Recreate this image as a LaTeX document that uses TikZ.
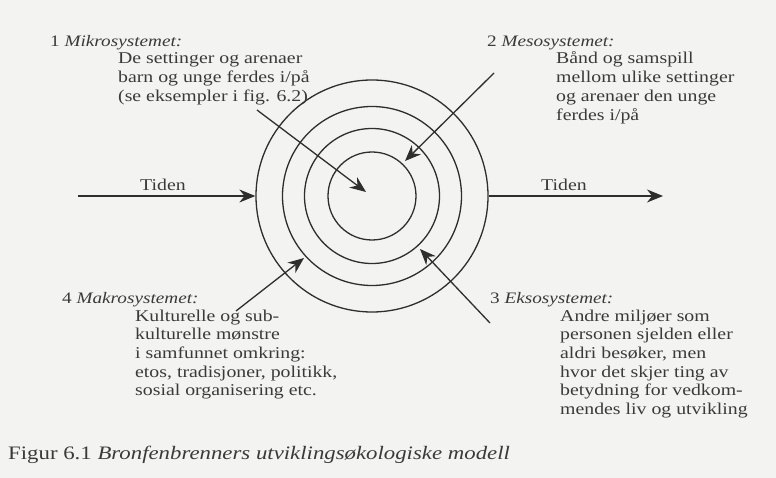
\documentclass[tikz,border=0pt]{standalone}
\usepackage{fontspec}
\setmainfont[FakeStretch=1.2]{Liberation Serif}
\usetikzlibrary{arrows.meta}
\definecolor{bg}{HTML}{F3F3F1}
\definecolor{ink}{HTML}{2E2E2E}
\definecolor{txtc}{HTML}{3A3A3A}
\tikzset{
  ring/.style={circle, draw=ink, line width=1.3pt, inner sep=0pt},
  arr/.style={draw=ink, line width=1.3pt, -{Stealth[length=16pt,width=13pt]}},
  txt/.style={anchor=base west, inner sep=0pt, text=txtc, font=\fontsize{16.5}{18.7}\selectfont},
  head/.style={anchor=base west, inner sep=0pt, text=txtc, font=\fontsize{16}{18}\selectfont},
}
\begin{document}
\begin{tikzpicture}[x=1pt,y=-1pt]
\fill[bg] (0,0) rectangle (776,478);
\useasboundingbox (0,0) rectangle (776,478);
% rings
\node[ring, minimum size=88pt] (r1) at (372,196) {};
\node[ring, minimum size=135pt] (r2) at (372,196) {};
\node[ring, minimum size=179pt] (r3) at (372,196) {};
\node[ring, minimum size=232pt] (r4) at (372,196) {};
% time arrows
\coordinate (tl0) at (78,196);
\coordinate (tr1) at (663,196);
\draw[arr] (tl0) -- (r4.west);
\draw[arr] (r4.east) -- (tr1);
\node[txt] (tidenL) at (140,191) {Tiden};
\node[txt] (tidenR) at (541,191) {Tiden};
% pointer arrows
\coordinate (a1s) at (257,110);
\coordinate (a1e) at (366,192);
\draw[arr] (a1s) -- (a1e);
\coordinate (a2s) at (494,73);
\coordinate (a2e) at (405,161);
\draw[arr] (a2s) -- (a2e);
\coordinate (a3s) at (490,323);
\coordinate (a3e) at (420,249);
\draw[arr] (a3s) -- (a3e);
\coordinate (a4s) at (236,311);
\coordinate (a4e) at (304,258);
\draw[arr] (a4s) -- (a4e);
% labels
\node[head] (h1) at (50,47) {1 \textit{Mikrosystemet:}};
\node[txt] (b1) at (118,64) {\begin{tabular}[t]{@{}l@{}}De settinger og arenaer\\ barn og unge ferdes i/på\\ (se eksempler i fig. 6.2)\end{tabular}};
\node[head] (h2) at (487,47) {2 \textit{Mesosystemet:}};
\node[txt] (b2) at (556,64) {\begin{tabular}[t]{@{}l@{}}Bånd og samspill\\ mellom ulike settinger\\ og arenaer den unge\\ ferdes i/på\end{tabular}};
\node[head] (h4) at (62,303) {4 \textit{Makrosystemet:}};
\node[txt] (b4) at (135,321) {\begin{tabular}[t]{@{}l@{}}Kulturelle og sub-\\ kulturelle mønstre\\ i samfunnet omkring:\\ etos, tradisjoner, politikk,\\ sosial organisering etc.\end{tabular}};
\node[head] (h3) at (490,303) {3 \textit{Eksosystemet:}};
\node[txt] (b3) at (560,321) {\begin{tabular}[t]{@{}l@{}}Andre miljøer som\\ personen sjelden eller\\ aldri besøker, men\\ hvor det skjer ting av\\ betydning for vedkom-\\ mendes liv og utvikling\end{tabular}};
\node[anchor=base west, inner sep=0pt, text=txtc, font=\fontsize{19}{22}\selectfont] (cap) at (8,459) {Figur 6.1 \textit{Bronfenbrenners utviklingsøkologiske modell}};
\end{tikzpicture}
\end{document}
